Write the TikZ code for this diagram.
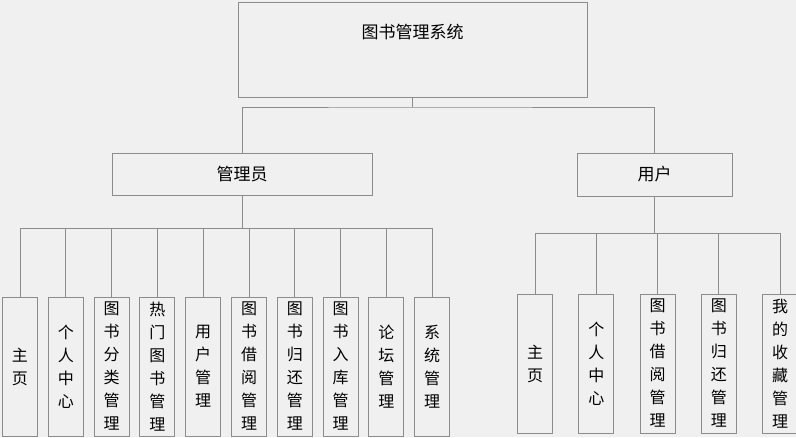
\documentclass[tikz,border=0pt]{standalone}
\usepackage{fontspec}
\setmainfont{Noto Sans CJK SC}
\usetikzlibrary{positioning}

\definecolor{bg}{HTML}{F0F0F0}
\definecolor{edge}{HTML}{8C8C8C}

\tikzset{
box/.style={draw=edge, fill=bg, line width=0.9pt, inner sep=0pt},
leaf/.style={box, minimum width=35pt, minimum height=139pt, align=center,
  font=\fontsize{16}{23}\selectfont},
link/.style={draw=edge, line width=0.9pt}
}

\begin{document}
\begin{tikzpicture}[x=1pt, y=-1pt]

\fill[bg] (0,0) rectangle (796,437);
\useasboundingbox (0,0) rectangle (796,437);

\node[box, minimum width=349pt, minimum height=95pt] (top) at (412.5,49.5) {};
\node[font=\fontsize{17}{20}\selectfont] (title) at ([yshift=17.5pt]top.center) {图书管理系统};

\node[box, minimum width=260pt, minimum height=42pt, font=\fontsize{17}{20}\selectfont] (admin) at (242,174) {管理员};
\node[box, minimum width=155pt, minimum height=43pt, font=\fontsize{17}{20}\selectfont] (user) at (654.5,174.5) {用户};

\coordinate (bus) at (412.5,107);
\draw[link] (top.south) -- (bus);
\draw[link] (admin.north) |- (bus) -| (user.north);

\foreach \i/\t in {1/{主\\页}, 2/{个\\人\\中\\心}, 3/{图\\书\\分\\类\\管\\理},
  4/{热\\门\\图\\书\\管\\理}, 5/{用\\户\\管\\理}, 6/{图\\书\\借\\阅\\管\\理},
  7/{图\\书\\归\\还\\管\\理}, 8/{图\\书\\入\\库\\管\\理}, 9/{论\\坛\\管\\理},
  10/{系\\统\\管\\理}} {
\node[leaf] (a\i) at ({20+(\i-1)*45.8},366.5) {\t};
};

\foreach \i/\t in {1/{主\\页}, 2/{个\\人\\中\\心}, 3/{图\\书\\借\\阅\\管\\理},
  4/{图\\书\\归\\还\\管\\理}, 5/{我\\的\\收\\藏\\管\\理}} {
\node[leaf] (u\i) at ({535+(\i-1)*61.3},363.5) {\t};
};

\coordinate (abus) at (242,228);
\coordinate (ubus) at (654.5,233);
\draw[link] (admin.south) -- (abus);
\draw[link] (user.south) -- (ubus);

\foreach \i in {1,...,10} {
\draw[link] (abus) -| (a\i.north);
};
\foreach \i in {1,...,5} {
\draw[link] (ubus) -| (u\i.north);
};

\end{tikzpicture}
\end{document}
